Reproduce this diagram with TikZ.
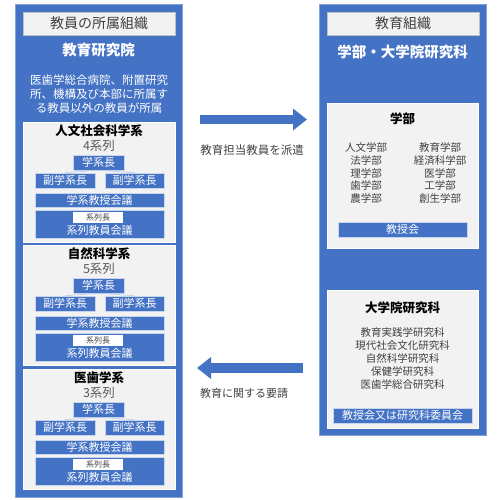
\documentclass[tikz,border=0pt]{standalone}
\usepackage{fontspec}
\setmainfont{Noto Sans CJK JP}
\usetikzlibrary{arrows.meta}
\definecolor{orgblue}{HTML}{4472C4}
\definecolor{panelgray}{HTML}{F2F2F2}
\definecolor{textgray}{HTML}{404040}
\tikzset{
  outerbox/.style={fill=orgblue,draw=orgblue!65,line width=0.8pt,inner sep=0pt},
  headbox/.style={fill=panelgray,draw=black!25,line width=0.4pt,inner sep=0pt,text=textgray,font=\fontsize{14}{16}\selectfont},
  panel/.style={fill=panelgray,draw=white,line width=0.8pt,inner sep=0pt},
  bar/.style={fill=orgblue,draw=white!70!orgblue,line width=0.4pt,inner sep=0pt,text=white,font=\fontsize{11}{12}\selectfont},
  tagbox/.style={fill=white,inner sep=0pt,text=textgray,font=\fontsize{8}{9}\selectfont},
  bigtitle/.style={text=white,font=\bfseries\fontsize{14.5}{16}\selectfont},
  subtitle/.style={text=black,font=\bfseries\fontsize{12.5}{14}\selectfont},
  entry/.style={text=textgray,inner sep=0pt,font=\fontsize{10.5}{12}\selectfont},
  link/.style={draw=white!60!orgblue,line width=0.5pt},
  blockarrow/.style={draw=orgblue,line width=9.5pt,-{Triangle[length=14pt,width=21pt]}}
}
\begin{document}
\begin{tikzpicture}[x=1pt,y=-1pt]
\useasboundingbox (0,0) rectangle (500,500);
% left: staff organisation
\node[outerbox,minimum width=167pt,minimum height=493pt] (staff) at (98.5,250.5) {};
\node[headbox,minimum width=152pt,minimum height=23pt] (staffhead) at (99,23.5) {教員の所属組織};
\node[bigtitle] (institute) at (98.5,50) {教育研究院};
\node[text=white,align=center,inner sep=0pt,font=\fontsize{11.5}{14}\selectfont] (staffnote) at (99,94) {医歯学総合病院、附置研究\\所、機構及び本部に所属す\\る教員以外の教員が所属};
\foreach \ytop/\kname/\nser [count=\i] in {122/人文社会科学系/4,245/自然科学系/5,369/医歯学系/3} {
\begin{scope}[shift={(0,\ytop)}]
\node[panel,minimum width=152pt,minimum height=120pt] (kei\i) at (99,60) {};
\node[subtitle] (keiname\i) at (99,9) {\kname};
\node[text=black!65,font=\fontsize{12.5}{14}\selectfont] (keinum\i) at (99,23.5) {\nser 系列};
\node[bar,minimum width=51pt,minimum height=15pt] (chief\i) at (98.5,40.5) {学系長};
\node[bar,minimum width=60pt,minimum height=15pt] (vicel\i) at (65,58.5) {副学系長};
\node[bar,minimum width=59pt,minimum height=15pt] (vicer\i) at (134.5,58.5) {副学系長};
\draw[link] (chief\i.south) -- (vicel\i.north);
\draw[link] (chief\i.south) -- (vicer\i.north);
\node[bar,minimum width=129pt,minimum height=14pt] (council\i) at (99.5,78) {学系教授会議};
\node[bar,minimum width=129pt,minimum height=28pt] (series\i) at (99.5,102) {};
\node[tagbox,minimum width=50pt,minimum height=11pt] (serieshead\i) at (98,95.5) {系列長};
\node[text=white,inner sep=0pt,font=\fontsize{11}{12}\selectfont] (seriesname\i) at (99.5,108.5) {系列教員会議};
\end{scope}
}
% right: teaching organisation
\node[outerbox,minimum width=167pt,minimum height=431pt] (teach) at (402.5,219.5) {};
\node[headbox,minimum width=152pt,minimum height=23pt] (teachhead) at (403,23.5) {教育組織};
\node[bigtitle] (school) at (402.5,52) {学部・大学院研究科};
\node[panel,minimum width=151pt,minimum height=145pt] (faculty) at (402.5,175.5) {};
\node[subtitle] (facultyname) at (402.5,119) {学部};
\foreach \left/\right [count=\k from 0] in {人文学部/教育学部,法学部/経済科学部,理学部/医学部,歯学部/工学部,農学部/創生学部} {
\node[entry] (facl\k) at (366,147.5+12.8*\k) {\left};
\node[entry] (facr\k) at (440,147.5+12.8*\k) {\right};
}
\node[bar,minimum width=129pt,minimum height=15pt] (facmeet) at (402.5,229.5) {教授会};
\node[panel,minimum width=151pt,minimum height=138pt] (grad) at (402.5,359) {};
\node[subtitle] (gradname) at (402.5,308) {大学院研究科};
\foreach \gname [count=\k from 0] in {教育実践学研究科,現代社会文化研究科,自然科学研究科,保健学研究科,医歯学総合研究科} {
\node[entry] (gradent\k) at (402.5,333+12.8*\k) {\gname};
}
\node[bar,minimum width=139pt,minimum height=15pt,font=\fontsize{11}{12}\selectfont] (gradmeet) at (402.5,415.5) {教授会又は研究科委員会};
% arrows between the two
\coordinate (sendfrom) at (200,119.5);
\coordinate (sendto) at (307,119.5);
\draw[blockarrow] (sendfrom) -- (sendto);
\node[text=textgray,font=\fontsize{11.5}{13}\selectfont] (sendlabel) at (252,150) {教育担当教員を派遣};
\coordinate (askfrom) at (303,368);
\coordinate (askto) at (197,368);
\draw[blockarrow] (askfrom) -- (askto);
\node[text=textgray,font=\fontsize{11}{13}\selectfont] (asklabel) at (244,393) {教育に関する要請};
\end{tikzpicture}
\end{document}
